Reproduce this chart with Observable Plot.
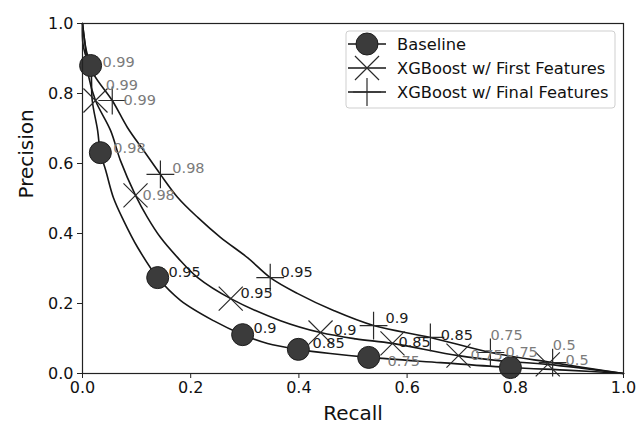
<!DOCTYPE html>
<html><head><meta charset="utf-8">
<script src="https://cdn.jsdelivr.net/npm/d3@7"></script>
<script src="https://cdn.jsdelivr.net/npm/@observablehq/plot@0.6"></script>
<style>body{margin:0;background:#fff} #chart svg{display:block}</style>
</head><body><div id="chart"></div>
<script>
// ---- data ----
const seriesNames = ["Baseline", "XGBoost w/ First Features", "XGBoost w/ Final Features"];
const axisTicks = [0, 0.2, 0.4, 0.6, 0.8, 1.0];

// PR curves
const baselineCurveRecall    = [0, 0.007, 0.015, 0.018, 0.028, 0.033, 0.043, 0.057, 0.076, 0.102, 0.139, 0.181, 0.242, 0.296, 0.342, 0.399, 0.458, 0.529, 0.662, 0.791, 0.902, 1.0];
const baselineCurvePrecision = [1, 0.923, 0.880, 0.780, 0.694, 0.631, 0.580, 0.503, 0.437, 0.360, 0.274, 0.209, 0.151, 0.111, 0.086, 0.069, 0.057, 0.046, 0.031, 0.017, 0.009, 0.0];
const firstCurveRecall    = [0, 0.006, 0.011, 0.024, 0.052, 0.070, 0.098, 0.120, 0.144, 0.176, 0.213, 0.274, 0.366, 0.440, 0.505, 0.573, 0.695, 0.773, 0.860, 1.0];
const firstCurvePrecision = [1, 0.923, 0.851, 0.780, 0.694, 0.609, 0.509, 0.446, 0.389, 0.331, 0.274, 0.214, 0.151, 0.117, 0.099, 0.086, 0.051, 0.036, 0.026, 0.0];
const finalCurveRecall    = [0, 0.002, 0.020, 0.055, 0.083, 0.113, 0.144, 0.176, 0.213, 0.255, 0.305, 0.347, 0.397, 0.464, 0.538, 0.643, 0.754, 0.869, 1.0];
const finalCurvePrecision = [1, 0.931, 0.857, 0.780, 0.703, 0.637, 0.569, 0.503, 0.446, 0.389, 0.331, 0.274, 0.229, 0.180, 0.137, 0.103, 0.060, 0.031, 0.0];

// threshold markers
const baselineMarkRecall    = [0.015, 0.033, 0.139, 0.296, 0.399, 0.529, 0.791];
const baselineMarkPrecision = [0.880, 0.631, 0.274, 0.111, 0.069, 0.046, 0.017];
const baselineThresholds    = ["0.99", "0.98", "0.95", "0.9", "0.85", "0.75", "0.75"];
const baselineLabelRecall    = [0.037, 0.057, 0.159, 0.316, 0.425, 0.564, 0.782];
const baselineLabelPrecision = [0.889, 0.643, 0.289, 0.129, 0.086, 0.034, 0.060];

const firstMarkRecall    = [0.024, 0.098, 0.274, 0.440, 0.573, 0.695, 0.860];
const firstMarkPrecision = [0.780, 0.509, 0.214, 0.117, 0.086, 0.051, 0.026];
const firstThresholds    = ["0.99", "0.98", "0.95", "0.9", "0.85", "0.75", "0.5"];
const firstLabelRecall    = [0.043, 0.111, 0.292, 0.464, 0.584, 0.717, 0.893];
const firstLabelPrecision = [0.823, 0.509, 0.229, 0.123, 0.089, 0.051, 0.037];

const finalMarkRecall    = [0.055, 0.144, 0.347, 0.538, 0.643, 0.754, 0.869];
const finalMarkPrecision = [0.780, 0.569, 0.274, 0.137, 0.103, 0.060, 0.031];
const finalThresholds    = ["0.99", "0.98", "0.95", "0.9", "0.85", "0.75", "0.5"];
const finalLabelRecall    = [0.076, 0.166, 0.366, 0.560, 0.662, 0.754, 0.869];
const finalLabelPrecision = [0.780, 0.586, 0.289, 0.157, 0.109, 0.109, 0.080];

const grayThresholds = ["0.99", "0.98", "0.75", "0.5"];

// ---- build tables ----
const curves = [
  [baselineCurveRecall, baselineCurvePrecision],
  [firstCurveRecall, firstCurvePrecision],
  [finalCurveRecall, finalCurvePrecision]
].flatMap(([rx, py], i) => rx.map((r, j) => ({series: seriesNames[i], recall: r, precision: py[j]})));

const mk = (rx, py, th, i) => rx.map((r, j) => ({series: seriesNames[i], recall: r, precision: py[j], label: th[j]}));
const baseMarks  = mk(baselineMarkRecall, baselineMarkPrecision, baselineThresholds, 0);
const firstMarks = mk(firstMarkRecall, firstMarkPrecision, firstThresholds, 1);
const finalMarks = mk(finalMarkRecall, finalMarkPrecision, finalThresholds, 2);
const labels = [
  ...mk(baselineLabelRecall, baselineLabelPrecision, baselineThresholds, 0),
  ...mk(firstLabelRecall, firstLabelPrecision, firstThresholds, 1),
  ...mk(finalLabelRecall, finalLabelPrecision, finalThresholds, 2)
];

const FONT = "DejaVu Sans, sans-serif";
const markerStroke = "#2a2a2a";
const timesR = 11, plusR = 9;

const chart = Plot.plot({
  width: 636, height: 432,
  marginLeft: 82, marginRight: 13, marginTop: 23, marginBottom: 59,
  x: {domain: [0, 1]},
  y: {domain: [0, 1]},
  style: {fontFamily: FONT, fontSize: "16px", color: "#111", background: "#fff"},
  marks: [
    Plot.axisX({ticks: axisTicks, tickFormat: ".1f", tickSize: 5, tickPadding: 3, label: null, fontSize: 16, stroke: "#222"}),
    Plot.axisY({ticks: axisTicks, tickFormat: ".1f", tickSize: 5, tickPadding: 4, label: null, fontSize: 16, stroke: "#222"}),
    Plot.line(curves, {x: "recall", y: "precision", z: "series", curve: "catmull-rom", stroke: "#161616", strokeWidth: 1.6}),
    Plot.dot(baseMarks, {x: "recall", y: "precision", symbol: "circle", r: 11, fill: "#3b3b3b", stroke: "#1e1e1e", strokeWidth: 1}),
    Plot.dot(firstMarks, {x: "recall", y: "precision", symbol: "times", r: timesR, fill: "none", stroke: markerStroke, strokeWidth: 1.2}),
    Plot.dot(finalMarks, {x: "recall", y: "precision", symbol: "plus", r: plusR, fill: "none", stroke: markerStroke, strokeWidth: 1.2}),
    Plot.text(labels, {filter: d => grayThresholds.includes(d.label), x: "recall", y: "precision", text: "label", textAnchor: "start", fill: "#7b7b7b", fontSize: 14.5}),
    Plot.text(labels, {filter: d => !grayThresholds.includes(d.label), x: "recall", y: "precision", text: "label", textAnchor: "start", fill: "#1c1c1c", fontSize: 14.5}),
    Plot.frame({stroke: "#222", strokeWidth: 1.2}),
    Plot.text(["Recall"], {frameAnchor: "bottom", dy: 46, fontSize: 20, fill: "#111"}),
    Plot.text(["Precision"], {frameAnchor: "left", dx: -56, rotate: -90, fontSize: 20, fill: "#111"})
  ]
});
document.getElementById("chart").appendChild(chart);

// ---- legend (upper right, inside the frame) ----
const svg = d3.select(chart);
const lg = svg.append("g").attr("font-family", FONT).attr("font-size", 16.3).attr("text-anchor", "start");
lg.append("rect").attr("x", 346).attr("y", 31).attr("width", 269).attr("height", 77)
  .attr("rx", 3).attr("fill", "#fff").attr("fill-opacity", 0.85).attr("stroke", "#cfcfcf");
const rowY = [44, 68, 92];
const symbols = [
  {type: d3.symbolCircle, r: 11, fill: "#3b3b3b", stroke: "#1e1e1e", sw: 1},
  {type: d3.symbolTimes, r: timesR, fill: "none", stroke: markerStroke, sw: 1.2},
  {type: d3.symbolPlus, r: plusR, fill: "none", stroke: markerStroke, sw: 1.2}
];
seriesNames.forEach((name, i) => {
  const y = rowY[i];
  lg.append("line").attr("x1", 348).attr("x2", 386).attr("y1", y).attr("y2", y).attr("stroke", "#161616").attr("stroke-width", 1.6);
  const s = symbols[i];
  lg.append("path").attr("transform", `translate(367,${y})`)
    .attr("d", d3.symbol(s.type, Math.PI * s.r * s.r)())
    .attr("fill", s.fill).attr("stroke", s.stroke).attr("stroke-width", s.sw);
  lg.append("text").attr("x", 397).attr("y", y).attr("dy", "0.35em").attr("fill", "#111").text(name);
});
</script>
</body></html>
